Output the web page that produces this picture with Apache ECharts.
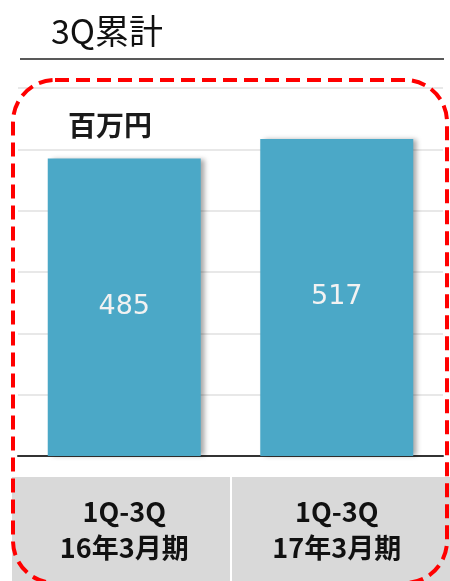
<!DOCTYPE html>
<html>
<head>
<meta charset="utf-8">
<script src="https://cdn.jsdelivr.net/npm/echarts@6/dist/echarts.min.js"></script>
<style>
html,body{margin:0;padding:0;background:#fff;}
#c{width:450px;height:581px;}
</style>
</head>
<body>
<div id="c"></div>
<script>
const categories = ['1Q-3Q\n16年3月期', '1Q-3Q\n17年3月期'];
const values = [485, 517];
const unitLabel = '百万円';
const titleText = '3Q累計';

const chart = echarts.init(document.getElementById('c'), null, {renderer: 'canvas'});
chart.setOption({
  animation: false,
  backgroundColor: '#ffffff',
  grid: {left: 18, right: 7, top: 88, bottom: 125},
  xAxis: {
    type: 'category',
    data: categories,
    axisLine: {lineStyle: {color: '#333333', width: 2}},
    axisTick: {show: false},
    axisLabel: {
      margin: 38,
      color: '#111111',
      fontFamily: 'Noto Sans CJK JP',
      fontWeight: 'bold',
      fontSize: 27,
      lineHeight: 36
    }
  },
  yAxis: {
    type: 'value',
    min: 0,
    max: 600,
    interval: 100,
    axisLine: {show: false},
    axisTick: {show: false},
    axisLabel: {show: false},
    splitLine: {lineStyle: {color: '#e0e0e0', width: 1.5}}
  },
  series: [{
    type: 'bar',
    data: values,
    barCategoryGap: '28%',
    itemStyle: {
      color: '#4ba8c7',
      shadowColor: 'rgba(0,0,0,0.35)',
      shadowBlur: 5,
      shadowOffsetX: 4,
      shadowOffsetY: 0
    },
    label: {
      show: true,
      position: 'inside',
      color: '#f2f2f2',
      fontFamily: 'DejaVu Sans',
      fontSize: 27
    }
  }],
  graphic: [
    {type: 'rect', z: -10, shape: {x: 12, y: 477, width: 218, height: 110}, style: {fill: '#d9d9d9'}},
    {type: 'rect', z: -10, shape: {x: 232, y: 477, width: 218, height: 110}, style: {fill: '#d9d9d9'}},
    {type: 'text', z: 10, style: {x: 51, y: 31, text: titleText, fill: '#111111', font: '34px "Noto Sans CJK JP"', textVerticalAlign: 'middle'}},
    {type: 'line', z: 10, shape: {x1: 20, y1: 59, x2: 444, y2: 59}, style: {stroke: '#222222', lineWidth: 1.6}},
    {type: 'text', z: 10, style: {x: 68, y: 125, text: unitLabel, fill: '#1a1a1a', font: 'bold 28px "Noto Sans CJK JP"', textVerticalAlign: 'middle'}},
    {type: 'rect', z: 100, shape: {x: 13, y: 80, width: 434, height: 503, r: 42}, style: {fill: 'none', stroke: '#ff0000', lineWidth: 4, lineDash: [14, 7]}}
  ]
});
</script>
</body>
</html>
